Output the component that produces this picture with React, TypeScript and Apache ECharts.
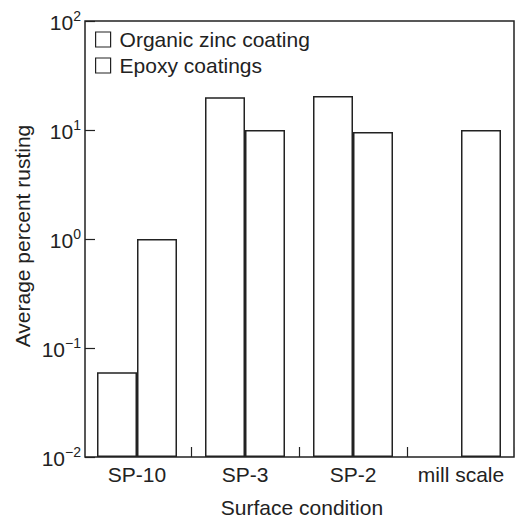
import React, { useEffect, useRef } from "react";
import * as echarts from "echarts";

const categories = ["SP-10", "SP-3", "SP-2", "mill scale"];
const organicZinc: (number | null)[] = [0.06, 20, 20.5, null];
const epoxy: number[] = [1, 10, 9.6, 10];
const seriesNames = ["Organic zinc coating", "Epoxy coatings"];
const yMin = 0.01;
const yMax = 100;

const FONT = "'Liberation Sans', Arial, Helvetica, sans-serif";
const INK = "#222";

export default function App() {
  const ref = useRef<HTMLDivElement>(null);
  useEffect(() => {
    if (!ref.current) return;
    const chart = echarts.init(ref.current, undefined, { renderer: "svg" });
    const barStyle = { color: "#fff", borderColor: INK, borderWidth: 1.5 };
    chart.setOption({
      animation: false,
      textStyle: { fontFamily: FONT, color: INK },
      grid: { left: 83, top: 21, width: 438, height: 436, containLabel: false },
      legend: {
        orient: "vertical",
        left: 95,
        top: 29,
        padding: 0,
        itemWidth: 15,
        itemHeight: 15,
        itemGap: 5,
        icon: "rect",
        itemStyle: { color: "#fff", borderColor: INK, borderWidth: 1.2 },
        textStyle: { fontSize: 21, color: INK, fontFamily: FONT, padding: [0, 0, 0, 4] },
        data: seriesNames,
      },
      xAxis: {
        type: "category",
        data: categories,
        boundaryGap: true,
        axisLine: { show: false },
        axisTick: {
          show: true,
          inside: true,
          length: 10,
          lineStyle: { color: INK, width: 1.2 },
          interval: (index: number) => index !== 0,
        },
        axisLabel: { fontSize: 21, color: INK, margin: 7, fontFamily: FONT, interval: 0 },
        splitLine: { show: false },
      },
      yAxis: {
        type: "log",
        logBase: 10,
        min: yMin,
        max: yMax,
        startValue: yMin,
        offset: -2,
        axisLine: { show: false },
        axisTick: { show: true, inside: true, length: 10, lineStyle: { color: INK, width: 1.2 } },
        splitLine: { show: false },
        minorTick: { show: false },
        axisLabel: {
          margin: 4,
          color: INK,
          formatter: (v: number) => {
            const e = Math.round(Math.log10(v));
            const s = e < 0 ? "\u2212" + Math.abs(e) : String(e);
            return "{b|10}{s|" + s + "}";
          },
          rich: {
            b: { fontSize: 21, lineHeight: 24, fontFamily: FONT, color: INK, verticalAlign: "bottom" },
            s: { fontSize: 14, lineHeight: 14, fontFamily: FONT, color: INK, verticalAlign: "top" },
          },
        },
      },
      series: [
        {
          name: seriesNames[0],
          type: "bar",
          data: organicZinc,
          barWidth: 40,
          barGap: "0%",
          itemStyle: barStyle,
        },
        {
          name: seriesNames[1],
          type: "bar",
          data: epoxy,
          barWidth: 40,
          barGap: "0%",
          itemStyle: barStyle,
        },
      ],
      graphic: [
        {
          type: "rect",
          z: 100,
          shape: { x: 85, y: 21, width: 429, height: 436 },
          style: { fill: "none", stroke: INK, lineWidth: 1.5 },
          silent: true,
        },
        {
          type: "text",
          x: 302,
          y: 507,
          style: {
            text: "Surface condition",
            fontSize: 21,
            fontFamily: FONT,
            fill: INK,
            align: "center",
            verticalAlign: "middle",
          },
        },
        {
          type: "text",
          x: 22,
          y: 236,
          rotation: Math.PI / 2,
          style: {
            text: "Average percent rusting",
            fontSize: 21,
            fontFamily: FONT,
            fill: INK,
            align: "center",
            verticalAlign: "middle",
          },
        },
      ],
    });
    return () => chart.dispose();
  }, []);
  return (
    <div
      ref={ref}
      style={{ position: "absolute", left: 0, top: 0, width: 515, height: 519, background: "#fff" }}
    />
  );
}
